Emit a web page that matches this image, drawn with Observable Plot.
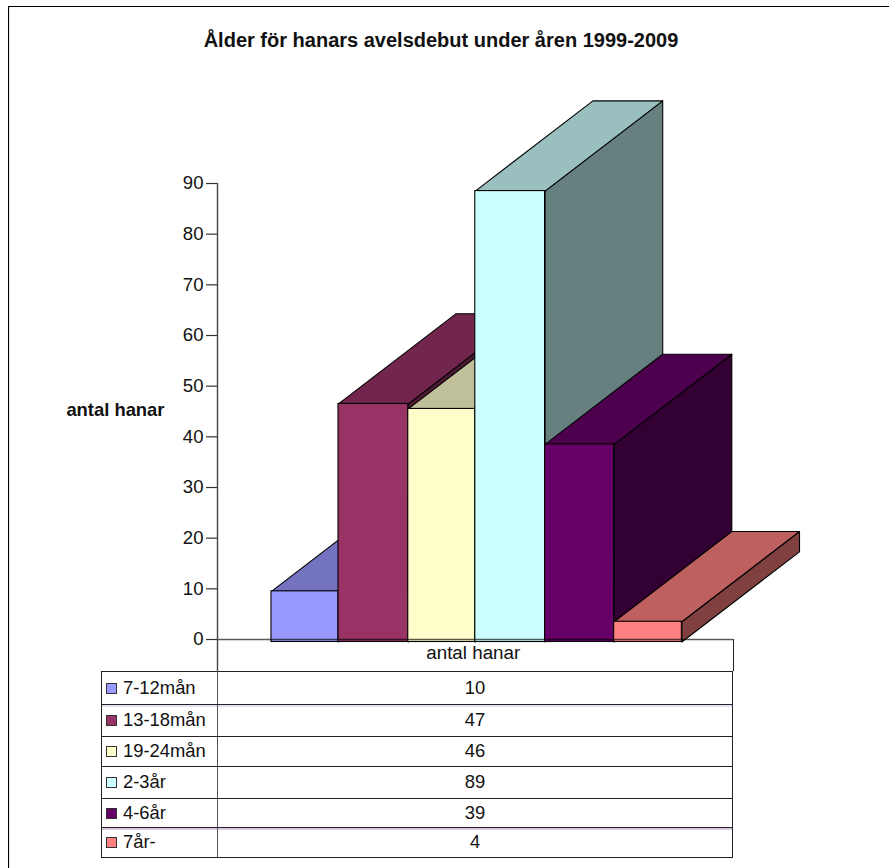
<!DOCTYPE html>
<html lang="sv">
<head>
<meta charset="utf-8">
<script src="https://cdn.jsdelivr.net/npm/d3@7"></script>
<script src="https://cdn.jsdelivr.net/npm/@observablehq/plot@0.6"></script>
<style>
  html, body { margin: 0; padding: 0; background: #fff; }
  body { width: 889px; height: 868px; overflow: hidden; position: relative;
         font-family: "Liberation Sans", Arial, sans-serif; color: #111; }
  #frame { position: absolute; left: 8px; top: 6px; width: 900px; height: 900px;
           border-left: 1px solid #000; border-top: 1.5px solid #000; box-sizing: border-box;
           box-shadow: inset 1px 0 0 #e4e4e4; }
  #title { height: 60px; box-sizing: border-box; padding-top: 29px; padding-right: 7px; text-align: center;
           font-weight: bold; font-size: 20px; line-height: 22px; position: relative; }
  #chart { position: relative; height: 611px; }
  #chart svg { display: block; overflow: visible; }
  table { position: absolute; left: 101px; top: 671px; width: 632px; border-collapse: collapse;
          table-layout: fixed; font-size: 18.4px; background: #fff; }
  td { border: 1px solid #222; padding: 0; line-height: 1; box-sizing: border-box; }
  td.name { width: 116px; text-align: left; padding-left: 21px; position: relative; border-right-color: #555; }
  td.val { text-align: center; }
  .sw { position: absolute; left: 4px; top: 50%; margin-top: -5.5px; width: 11px; height: 11px;
        box-sizing: border-box; border: 1.5px solid #333; }
  tr.faint td { box-shadow: inset 0 2px 0 var(--faint); }
</style>
</head>
<body>
<div id="frame"></div>
<div id="title"></div>
<div id="chart"></div>
<table id="legend"></table>
<script>
const titleText = "Ålder för hanars avelsdebut under åren 1999-2009";
const axisLabel = "antal hanar";
const categories = ["7-12mån", "13-18mån", "19-24mån", "2-3år", "4-6år", "7år-"];
const values = [10, 47, 46, 89, 39, 4];
const frontColors = ["#9999FF", "#993366", "#FFFFCC", "#CCFFFF", "#660066", "#FF8080"];
const topColors = ["#7373BF", "#73264D", "#BFBF99", "#99BFBF", "#4D004D", "#BF6060"];
const sideColors = ["#4D4D80", "#4D1A33", "#808066", "#668080", "#330033", "#804040"];
const barEdges = [0, 0.98, 2, 2.98, 4, 5.01, 6];
const rowHeights = [33, 32, 30, 32, 29, 30];
const faintRows = { 1: "#e6e0fa", 5: "#dcc8e0" };

// Depth of the oblique projection, in scale units
const depthX = 1.72;
const depthY = 17.8;
const xMin = -0.789, xMax = 6.755;
const tableFloor = -6.35;
const edge = "#000";
const faceStyle = { stroke: edge, strokeWidth: 1.1, curve: "linear-closed", dy: 2.5 };

const faces = values.flatMap((v, i) => {
  const l = barEdges[i], r = barEdges[i + 1];
  return [
    Plot.line(
      [[r, 0], [r + depthX, depthY], [r + depthX, v + depthY], [r, v]],
      { ...faceStyle, fill: sideColors[i] }
    ),
    Plot.line(
      [[l, v], [r, v], [r + depthX, v + depthY], [l + depthX, v + depthY]],
      { ...faceStyle, fill: topColors[i] }
    ),
    Plot.rect([{ x1: l, x2: r, y1: 0, y2: v }],
      { x1: "x1", x2: "x2", y1: "y1", y2: "y2", fill: frontColors[i], stroke: edge, strokeWidth: 1.1, dy: 2.5 })
  ];
});

const chart = Plot.plot({
  width: 889,
  height: 611,
  marginLeft: 217,
  marginRight: 156,
  marginTop: 123,
  marginBottom: 32,
  style: { fontFamily: '"Liberation Sans", Arial, sans-serif', fontSize: "18.6px", color: "#111", overflow: "visible" },
  x: { domain: [xMin, xMax], axis: null },
  y: { domain: [0, 90], axis: null },
  marks: [
    ...faces,
    Plot.ruleY([0], { x1: xMin, x2: xMax, stroke: "#000", strokeOpacity: 0.65, strokeWidth: 1.5 }),
    Plot.ruleX([xMin], { y1: 90, y2: tableFloor, stroke: "#444", strokeWidth: 1.4 }),
    Plot.ruleX([xMax], { y1: 0, y2: tableFloor, stroke: "#222", strokeWidth: 1 }),
    Plot.axisY({
      ticks: d3.range(0, 91, 10), tickSize: 11, tickPadding: 3, label: null,
      fontSize: 18.6, stroke: "#333", strokeWidth: 1.2
    }),
    Plot.text([axisLabel], {
      frameAnchor: "left", dx: -53, y: [45.3], textAnchor: "end",
      fontWeight: "bold", fontSize: 18.4
    }),
    Plot.text([axisLabel], { x: [2.95], y: [-2.75], fontSize: 18.8 })
  ]
});
document.getElementById("title").textContent = titleText;
document.getElementById("chart").append(chart);

const table = document.getElementById("legend");
categories.forEach((c, i) => {
  const tr = table.insertRow();
  tr.style.height = rowHeights[i] + "px";
  if (faintRows[i]) { tr.className = "faint"; tr.style.setProperty("--faint", faintRows[i]); }
  const a = tr.insertCell(); a.className = "name";
  const sw = document.createElement("span"); sw.className = "sw"; sw.style.background = frontColors[i];
  a.append(sw, c);
  const b = tr.insertCell(); b.className = "val"; b.textContent = values[i];
});
</script>
</body>
</html>
